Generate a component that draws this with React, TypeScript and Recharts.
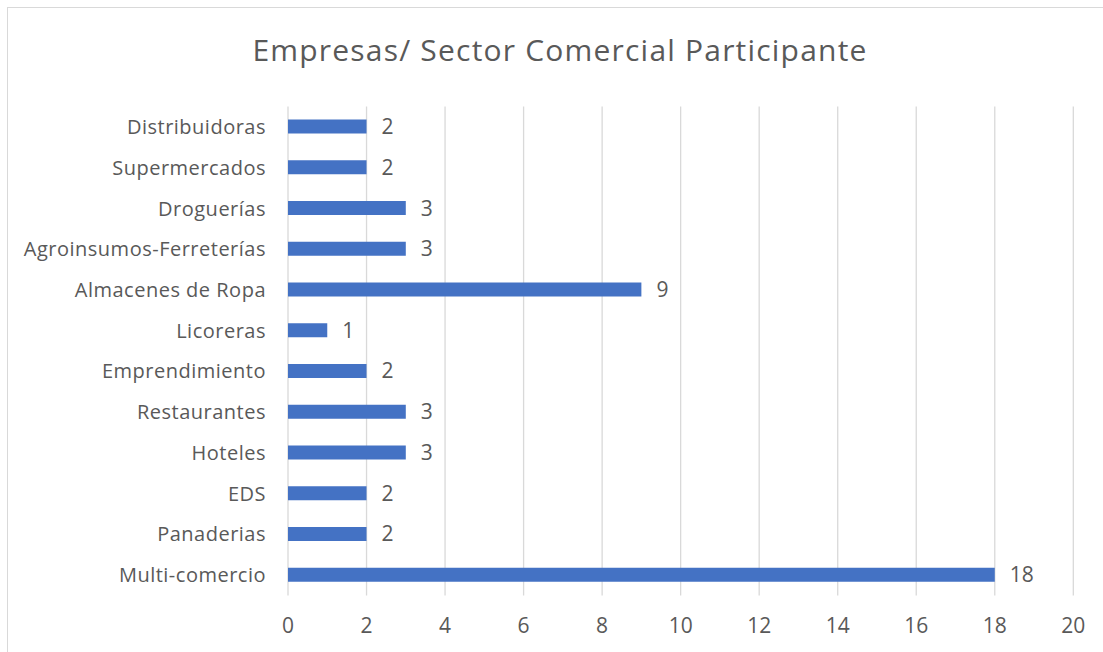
import React from 'react';
import { BarChart, Bar, XAxis, YAxis, CartesianGrid, LabelList } from 'recharts';

const categories = [
  'Distribuidoras',
  'Supermercados',
  'Droguerías',
  'Agroinsumos-Ferreterías',
  'Almacenes de Ropa',
  'Licoreras',
  'Emprendimiento',
  'Restaurantes',
  'Hoteles',
  'EDS',
  'Panaderias',
  'Multi-comercio',
];
const values = [2, 2, 3, 3, 9, 1, 2, 3, 3, 2, 2, 18];
const xTicks = [0, 2, 4, 6, 8, 10, 12, 14, 16, 18, 20];
const title = 'Empresas/ Sector Comercial Participante';

const data = categories.map((name, i) => ({ name, value: values[i] }));

const FONT = '"Open Sans", "Noto Sans", sans-serif';
const TEXT = '#595959';

export default function App() {
  return (
    <div style={{ position: 'absolute', left: 0, top: 0, width: 1103, height: 652, background: '#fff', fontFamily: FONT }}>
      <div
        style={{
          position: 'absolute',
          left: 6.5,
          top: 6.5,
          width: 1100,
          height: 650,
          border: '1.5px solid #d9d9d9',
          boxSizing: 'border-box',
        }}
      />
      <div
        style={{
          position: 'absolute',
          left: 0,
          top: 28,
          width: 1120,
          textAlign: 'center',
          fontSize: 30,
          letterSpacing: 1.2,
          color: TEXT,
          fontFamily: FONT,
          fontWeight: 400,
          lineHeight: '44px',
        }}
      >
        {title}
      </div>
      <div style={{ position: 'absolute', left: 0, top: 0 }}>
        <BarChart
          width={1103}
          height={652}
          data={data}
          layout="vertical"
          margin={{ top: 106.6, right: 29.7, bottom: 16.6, left: 8 }}
          barSize={14}
        >
          <CartesianGrid horizontal={false} vertical={true} stroke="#d9d9d9" strokeWidth={1.3} />
          <XAxis
            type="number"
            domain={[0, 20]}
            ticks={xTicks}
            axisLine={false}
            tickLine={false}
            height={40}
            tickMargin={17}
            tick={{ fill: TEXT, fontSize: 21, fontFamily: FONT }}
            interval={0}
          />
          <YAxis
            type="category"
            dataKey="name"
            width={280}
            axisLine={false}
            tickLine={false}
            tickMargin={16}
            interval={0}
            tick={{ fill: TEXT, fontSize: 20, fontFamily: FONT, letterSpacing: 0.5 }}
          />
          <Bar dataKey="value" fill="#4472C4" isAnimationActive={false}>
            <LabelList dataKey="value" position="right" offset={15} fill={TEXT} fontSize={21} fontFamily={FONT} />
          </Bar>
        </BarChart>
      </div>
    </div>
  );
}
